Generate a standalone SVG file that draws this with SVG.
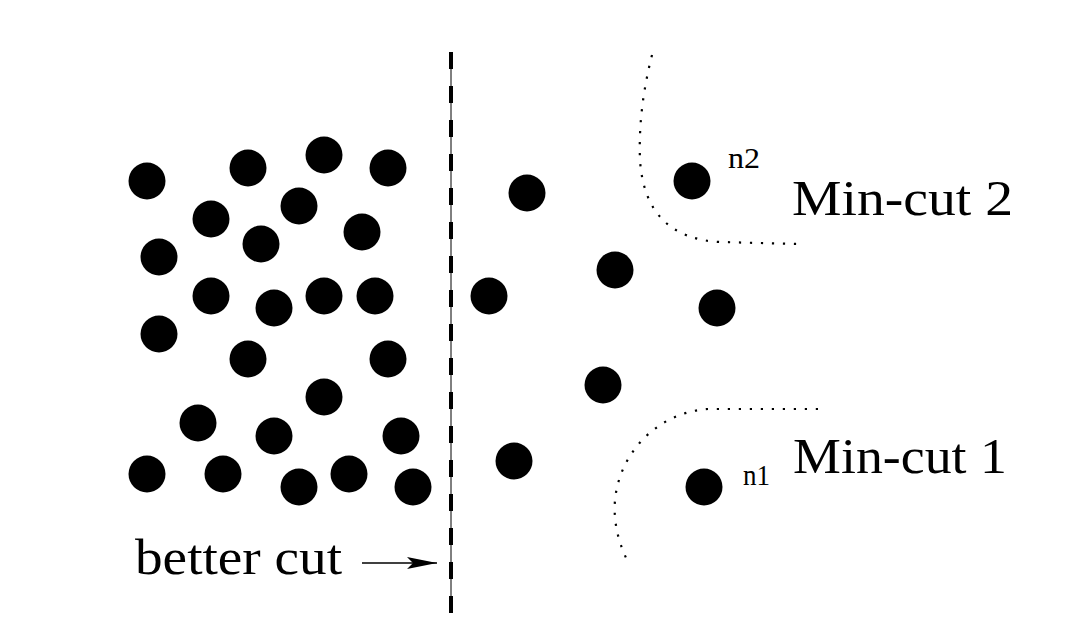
<svg xmlns="http://www.w3.org/2000/svg" width="1072" height="628" viewBox="0 0 1072 628">
<style>
.dot{fill:#000}
.lbl{font-family:"Liberation Serif","Times New Roman",serif;fill:#000}
.big{font-size:50px}
.small{font-size:29px}
.dotted{fill:none;stroke:#000;stroke-width:2.2;stroke-dasharray:2.2 8.8;stroke-linecap:butt}
</style>
<defs>
<marker id="arr" markerUnits="userSpaceOnUse" markerWidth="32" markerHeight="14" refX="30" refY="7" orient="auto">
<path d="M0,1 L30,7 L0,13 L6,7 Z" fill="#000"/>
</marker>
</defs>
<rect width="1072" height="628" fill="#fff"/>
<g id="nodes">
<g id="left">
<circle class="dot" cx="147" cy="181" r="18.5"/>
<circle class="dot" cx="248" cy="168" r="18.5"/>
<circle class="dot" cx="324" cy="155" r="18.5"/>
<circle class="dot" cx="388" cy="168" r="18.5"/>
<circle class="dot" cx="211" cy="219" r="18.5"/>
<circle class="dot" cx="299" cy="206" r="18.5"/>
<circle class="dot" cx="362" cy="232" r="18.5"/>
<circle class="dot" cx="261" cy="244" r="18.5"/>
<circle class="dot" cx="159" cy="257" r="18.5"/>
<circle class="dot" cx="211" cy="296" r="18.5"/>
<circle class="dot" cx="274" cy="308" r="18.5"/>
<circle class="dot" cx="324" cy="296" r="18.5"/>
<circle class="dot" cx="375" cy="296" r="18.5"/>
<circle class="dot" cx="159" cy="334" r="18.5"/>
<circle class="dot" cx="248" cy="359" r="18.5"/>
<circle class="dot" cx="388" cy="359" r="18.5"/>
<circle class="dot" cx="324" cy="397" r="18.5"/>
<circle class="dot" cx="198" cy="423" r="18.5"/>
<circle class="dot" cx="274" cy="436" r="18.5"/>
<circle class="dot" cx="401" cy="436" r="18.5"/>
<circle class="dot" cx="147" cy="474" r="18.5"/>
<circle class="dot" cx="223" cy="474" r="18.5"/>
<circle class="dot" cx="299" cy="487" r="18.5"/>
<circle class="dot" cx="349" cy="474" r="18.5"/>
<circle class="dot" cx="413" cy="487" r="18.5"/>
</g>
<g id="right">
<circle class="dot" cx="527" cy="193" r="18.5"/>
<circle class="dot" cx="615" cy="270" r="18.5"/>
<circle class="dot" cx="489" cy="296" r="18.5"/>
<circle class="dot" cx="717" cy="308" r="18.5"/>
<circle class="dot" cx="603" cy="385" r="18.5"/>
<circle class="dot" cx="514" cy="461" r="18.5"/>
</g>
<g id="n2">
<circle class="dot" cx="692" cy="181" r="18.5"/>
<text class="lbl small" x="728" y="168" textLength="32" lengthAdjust="spacingAndGlyphs">n2</text>
</g>
<g id="n1">
<circle class="dot" cx="704" cy="487" r="18.5"/>
<text class="lbl small" x="743" y="485" textLength="27" lengthAdjust="spacingAndGlyphs">n1</text>
</g>
</g>
<g id="connectors">
<line x1="451" y1="52" x2="451" y2="613" stroke="#000" stroke-width="1"/>
<line x1="451" y1="52" x2="451" y2="613" stroke="#000" stroke-width="4" stroke-dasharray="17 17"/>
<path class="dotted" d="M652,55 Q638,110 640,160 Q645,238 720,242 L800,244"/>
<path class="dotted" d="M818,409 L708,409 C660,412 620,450 615,500 C613,525 620,545 627,560"/>
<line x1="362" y1="563" x2="437" y2="563" stroke="#000" stroke-width="1.5" marker-end="url(#arr)"/>
</g>
<g id="labels">
<text class="lbl big" x="792" y="215" textLength="221" lengthAdjust="spacingAndGlyphs">Min-cut 2</text>
<text class="lbl big" x="793" y="473" textLength="214" lengthAdjust="spacingAndGlyphs">Min-cut 1</text>
<text class="lbl big" x="135" y="574" textLength="207" lengthAdjust="spacingAndGlyphs">better cut</text>
</g>
</svg>
